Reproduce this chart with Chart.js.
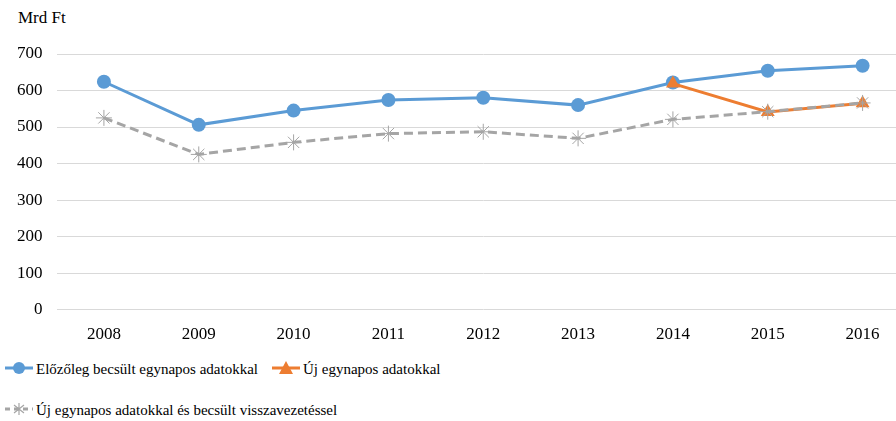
<!DOCTYPE html>
<html lang="hu">
<head>
    <meta charset="UTF-8">
    <title>Mrd Ft</title>
    <script src="https://cdn.jsdelivr.net/npm/chart.js"></script>
    <style>
        body {
            margin: 0;
            padding: 0;
            background-color: #fff;
            overflow: hidden;
            font-family: 'Liberation Serif', 'Noto Serif', 'DejaVu Serif', 'Times New Roman', Times, serif;
            color: #000;
        }
        .wrap {
            position: relative;
            width: 920px;
            height: 421px;
        }
        .chart-box {
            position: absolute;
            left: 0;
            top: 0;
            width: 919px;
            height: 352px;
        }
        .unit {
            position: absolute;
            left: 18px;
            top: 8px;
            font-size: 17px;
        }
        .legend-item {
            position: absolute;
            font-size: 15px;
            line-height: 20px;
            white-space: nowrap;
        }
        .legend-item svg {
            vertical-align: -3px;
            margin-right: 3px;
        }
    </style>
</head>
<body>
    <div class="wrap">
        <div class="unit">Mrd Ft</div>
        <div class="chart-box"><canvas id="chart"></canvas></div>
        <div id="legend"></div>
    </div>

    <script>
        const years = ['2008', '2009', '2010', '2011', '2012', '2013', '2014', '2015', '2016'];
        const previousEstimate = [624, 506, 545, 574, 580, 560, 622, 654, 668];
        const newData = [null, null, null, null, null, null, 619, 541, 565];
        const newWithBackcast = [525, 425, 458, 482, 487, 469, 521, 542, 566];
        const seriesNames = [
            'Előzőleg becsült egynapos adatokkal',
            'Új egynapos adatokkal',
            'Új egynapos adatokkal és becsült visszavezetéssel'
        ];
        const colors = ['#5b9bd5', '#ed7d31', '#a5a5a5'];
        const font = { family: "'Liberation Serif', 'Noto Serif', 'DejaVu Serif', 'Times New Roman', serif", size: 17 };

        new Chart(document.getElementById('chart'), {
            type: 'line',
            data: {
                labels: years,
                datasets: [
                    {
                        label: seriesNames[0],
                        data: previousEstimate,
                        borderColor: colors[0],
                        backgroundColor: colors[0],
                        borderWidth: 3,
                        pointStyle: 'circle',
                        pointRadius: 7,
                        pointBorderWidth: 0,
                        order: 3
                    },
                    {
                        label: seriesNames[1],
                        data: newData,
                        borderColor: colors[1],
                        backgroundColor: colors[1],
                        borderWidth: 3,
                        pointStyle: 'triangle',
                        pointRadius: 8,
                        pointBorderWidth: 0,
                        order: 2
                    },
                    {
                        label: seriesNames[2],
                        data: newWithBackcast,
                        borderColor: colors[2],
                        backgroundColor: colors[2],
                        borderWidth: 3,
                        borderDash: [9, 5],
                        pointStyle: 'star',
                        pointRadius: 8,
                        pointBorderWidth: 1,
                        pointBorderColor: colors[2],
                        order: 1
                    }
                ]
            },
            options: {
                responsive: true,
                maintainAspectRatio: false,
                animation: false,
                layout: { padding: { top: 54, left: 3, right: 0, bottom: 0 } },
                plugins: {
                    legend: { display: false },
                    tooltip: { enabled: false }
                },
                scales: {
                    x: {
                        offset: true,
                        grid: { display: false },
                        border: { display: false },
                        ticks: { color: '#000', font: font, padding: 7 }
                    },
                    y: {
                        min: 0,
                        max: 700,
                        ticks: { stepSize: 100, color: '#000', font: font, padding: 14 },
                        grid: { color: '#d9d9d9', lineWidth: 1, drawTicks: false },
                        border: { display: false }
                    }
                }
            }
        });

        // legend laid out like the original (two rows, left aligned)
        const legendPos = [[5, 359], [272, 359], [5, 400]];
        const markers = [
            '<circle cx="14" cy="9" r="6" fill="' + colors[0] + '"/>',
            '<polygon points="14,2 21,15 7,15" fill="' + colors[1] + '"/>',
            '<path d="M14 3 V15 M9 5 L19 13 M19 5 L9 13" stroke="' + colors[2] + '" stroke-width="1.2"/>'
        ];
        const dashes = ['', '', ' stroke-dasharray="5 4"'];
        document.getElementById('legend').innerHTML = seriesNames.map((name, i) => {
            const svg = '<svg width="28" height="18"><line x1="0" y1="9" x2="28" y2="9" stroke="' + colors[i] +
                '" stroke-width="3"' + dashes[i] + '/>' + markers[i] + '</svg>';
            return '<div class="legend-item" style="left:' + legendPos[i][0] + 'px;top:' + legendPos[i][1] + 'px">' +
                svg + name + '</div>';
        }).join('');
    </script>
</body>
</html>
